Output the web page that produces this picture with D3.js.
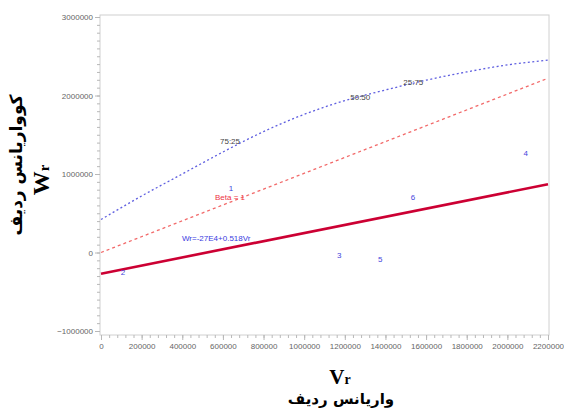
<!DOCTYPE html>
<html>
<head>
<meta charset="utf-8">
<script src="https://cdnjs.cloudflare.com/ajax/libs/d3/7.8.5/d3.min.js"></script>
<style>
  body { margin: 0; background: #fff; }
  .tick text { font-family: "Liberation Sans", Arial, sans-serif; font-size: 8px; fill: #666; }
  .domain { stroke: #c8c8c8; }
  .tick line { stroke: #b8b8b8; }
</style>
</head>
<body>
<div id="chart"></div>
<script>
// points (Vr, Wr) and their labels
var pointLabels = ["1", "2", "3", "4", "5", "6"];
var pointVr = [640000, 108000, 1172000, 2090000, 1374000, 1535000];
var pointWr = [820000, -255000, -30000, 1260000, -90000, 700000];

// regression line Wr = -27E4 + 0.518 Vr
var regVr = [0, 2200000];
var regWr = [-270000, 869600];

// beta = 1 line
var betaVr = [0, 2200000];
var betaWr = [0, 2220000];

// limiting parabola
var curveVr = [0, 200000, 400000, 600000, 800000, 1000000, 1200000, 1400000, 1600000, 1800000, 2000000, 2200000];
var curveWr = [420000, 720000, 1000000, 1280000, 1540000, 1760000, 1935000, 2070000, 2195000, 2300000, 2390000, 2450000];

// texts placed on the chart
var curveNames = ["75:25", "50:50", "25:75"];
var curveNameVr = [635000, 1276000, 1537000];
var curveNameWr = [1420000, 1980000, 2170000];

var xTicks = [0, 200000, 400000, 600000, 800000, 1000000, 1200000, 1400000, 1600000, 1800000, 2000000, 2200000];
var yTicks = [-1000000, 0, 1000000, 2000000, 3000000];

var width = 564, height = 410;
var frame = { left: 100, right: 549, top: 15, bottom: 335 };

var svg = d3.select("#chart").append("svg")
    .attr("width", width)
    .attr("height", height);

var x = d3.scaleLinear().domain([0, 2200000]).range([101, 548]);
var y = d3.scaleLinear().domain([-1000000, 3000000]).range([331, 17]);

// frame
svg.append("rect")
    .attr("x", frame.left)
    .attr("y", frame.top)
    .attr("width", frame.right - frame.left)
    .attr("height", frame.bottom - frame.top)
    .attr("fill", "none")
    .attr("stroke", "#d0d0d0");

// minor ticks
svg.append("g")
    .attr("transform", "translate(" + frame.left + ",0)")
    .call(d3.axisLeft(y).tickValues(d3.range(-1000000, 3000001, 100000)).tickSize(3).tickFormat(""))
    .call(function(g) { g.select(".domain").remove(); });

svg.append("g")
    .attr("transform", "translate(0," + frame.bottom + ")")
    .call(d3.axisBottom(x).tickValues(d3.range(0, 2200001, 40000)).tickSize(3).tickFormat(""))
    .call(function(g) { g.select(".domain").remove(); });

// major axes
svg.append("g")
    .attr("transform", "translate(" + frame.left + ",0)")
    .call(d3.axisLeft(y).tickValues(yTicks).tickSize(5).tickPadding(2).tickFormat(d3.format("d")))
    .call(function(g) { g.select(".domain").remove(); });

svg.append("g")
    .attr("transform", "translate(0," + frame.bottom + ")")
    .call(d3.axisBottom(x).tickValues(xTicks).tickSize(5).tickPadding(3).tickFormat(d3.format("d")))
    .call(function(g) { g.select(".domain").remove(); });

var line = d3.line()
    .x(function(d) { return x(d[0]); })
    .y(function(d) { return y(d[1]); });

svg.append("path")
    .datum(d3.zip(curveVr, curveWr))
    .attr("d", line.curve(d3.curveMonotoneX))
    .attr("fill", "none")
    .attr("stroke", "#5f5fe0")
    .attr("stroke-width", 1.3)
    .attr("stroke-dasharray", "2,2.5");

line.curve(d3.curveLinear);

svg.append("path")
    .datum(d3.zip(betaVr, betaWr))
    .attr("d", line)
    .attr("fill", "none")
    .attr("stroke", "#f26a6a")
    .attr("stroke-width", 1.3)
    .attr("stroke-dasharray", "3,3");

svg.append("path")
    .datum(d3.zip(regVr, regWr))
    .attr("d", line)
    .attr("fill", "none")
    .attr("stroke", "#cc0033")
    .attr("stroke-width", 2.6);

// point labels
svg.selectAll(".pt")
    .data(pointLabels)
    .enter().append("text")
    .attr("class", "pt")
    .attr("x", function(d, i) { return x(pointVr[i]); })
    .attr("y", function(d, i) { return y(pointWr[i]); })
    .attr("dy", "0.35em")
    .attr("text-anchor", "middle")
    .attr("font-family", "Liberation Sans, Arial, sans-serif")
    .attr("font-size", 8)
    .attr("fill", "#4444dd")
    .text(function(d) { return d; });

// curve names
svg.selectAll(".cn")
    .data(curveNames)
    .enter().append("text")
    .attr("class", "cn")
    .attr("x", function(d, i) { return x(curveNameVr[i]); })
    .attr("y", function(d, i) { return y(curveNameWr[i]); })
    .attr("dy", "0.35em")
    .attr("text-anchor", "middle")
    .attr("font-family", "Liberation Sans, Arial, sans-serif")
    .attr("font-size", 8)
    .attr("fill", "#444")
    .text(function(d) { return d; });

svg.append("text")
    .attr("x", x(635000))
    .attr("y", y(700000))
    .attr("dy", "0.35em")
    .attr("text-anchor", "middle")
    .attr("font-family", "Liberation Sans, Arial, sans-serif")
    .attr("font-size", 8)
    .attr("fill", "#ee3344")
    .text("Beta = 1");

svg.append("text")
    .attr("x", x(567000))
    .attr("y", y(180000))
    .attr("dy", "0.35em")
    .attr("text-anchor", "middle")
    .attr("font-family", "Liberation Sans, Arial, sans-serif")
    .attr("font-size", 8)
    .attr("fill", "#3a3ae0")
    .text("Wr=-27E4+0.518Vr");

// axis titles
var xt = svg.append("text")
    .attr("x", 340)
    .attr("y", 384)
    .attr("text-anchor", "middle")
    .attr("font-family", "Liberation Serif, Times New Roman, serif")
    .attr("font-weight", "bold")
    .attr("font-size", 21);
xt.append("tspan").text("V");
xt.append("tspan").attr("font-size", 14).text("r");

svg.append("text")
    .attr("x", 341)
    .attr("y", 404)
    .attr("text-anchor", "middle")
    .attr("direction", "rtl")
    .attr("font-family", "DejaVu Sans, sans-serif")
    .attr("font-weight", "bold")
    .attr("font-size", 15)
    .text("واریانس ردیف");

var yt = svg.append("text")
    .attr("transform", "translate(49,180) rotate(-90)")
    .attr("text-anchor", "middle")
    .attr("font-family", "Liberation Serif, Times New Roman, serif")
    .attr("font-weight", "bold")
    .attr("font-size", 24);
yt.append("tspan").text("W");
yt.append("tspan").attr("font-size", 15).text("r");

svg.append("text")
    .attr("transform", "translate(22,165) rotate(-90)")
    .attr("text-anchor", "middle")
    .attr("direction", "rtl")
    .attr("font-family", "DejaVu Sans, sans-serif")
    .attr("font-weight", "bold")
    .attr("font-size", 17)
    .text("کوواریانس ردیف");
</script>
</body>
</html>
